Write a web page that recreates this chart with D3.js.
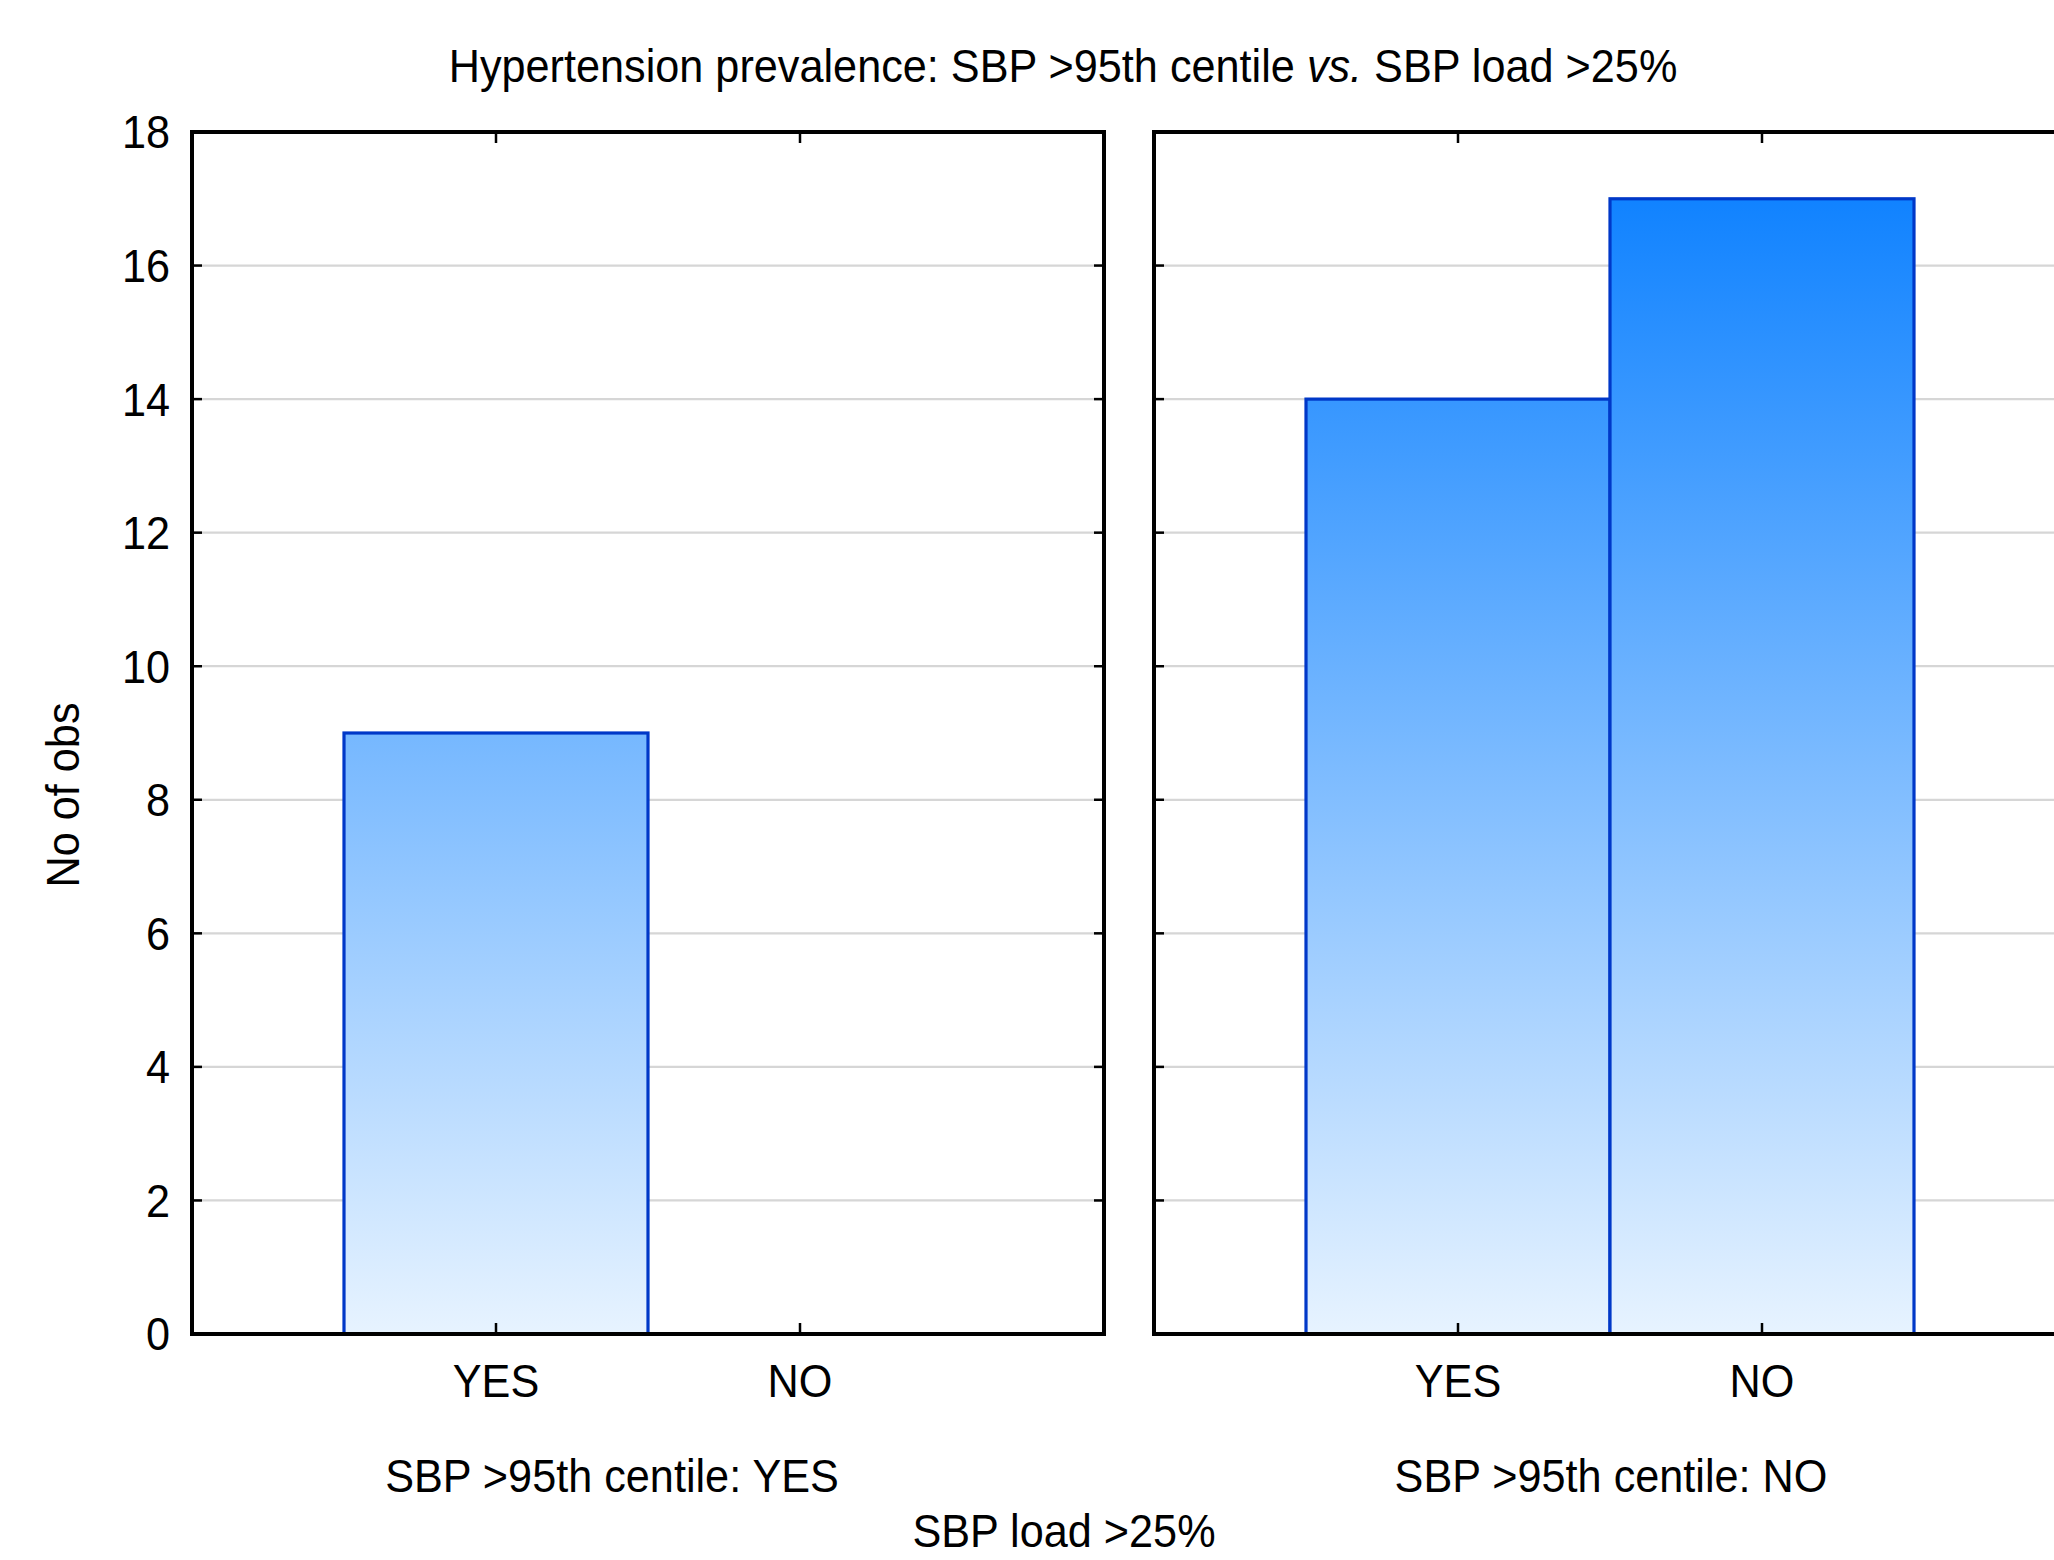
<!DOCTYPE html>
<html>
<head>
<meta charset="utf-8">
<script src="https://cdn.jsdelivr.net/npm/d3@7"></script>
<style>
  html, body { margin: 0; padding: 0; background: #fff; }
  svg { display: block; }
  text { font-family: "Liberation Sans", Arial, sans-serif; fill: #000; }
</style>
</head>
<body>
<svg id="chart" width="2054" height="1560"></svg>
<script>
// ---- data ----
const categories = ["YES", "NO"];
const panelLabels = ["SBP >95th centile: YES", "SBP >95th centile: NO"];
const valuesPanelYes = [9, 0];
const valuesPanelNo = [14, 17];
const yTicks = [0, 2, 4, 6, 8, 10, 12, 14, 16, 18];
const titleMain = "Hypertension prevalence: SBP >95th centile ";
const titleItalic = "vs.";
const titleEnd = " SBP load >25%";
const yLabel = "No of obs";
const xLabel = "SBP load >25%";

const panelValues = [valuesPanelYes, valuesPanelNo];

// ---- layout ----
const plotTop = 132, plotBottom = 1334;
const panelW = 912;
const panelX = [192, 1154];
const FS = 47, SX = 0.92;

const svg = d3.select("#chart");

const y = d3.scaleLinear().domain([0, 18]).range([plotBottom, plotTop]);

// gradient (absolute, across plot height)
const defs = svg.append("defs");
const grad = defs.append("linearGradient")
  .attr("id", "barGrad")
  .attr("gradientUnits", "userSpaceOnUse")
  .attr("x1", 0).attr("x2", 0)
  .attr("y1", y(18)).attr("y2", y(0));
grad.append("stop").attr("offset", "0%").attr("stop-color", "rgb(4,124,255)");
grad.append("stop").attr("offset", "100%").attr("stop-color", "rgb(231,243,255)");

function addText(g, str, x, yy, anchor, opts = {}) {
  const t = g.append("text")
    .attr("transform", `translate(${x},${yy}) scale(${SX},1)`)
    .attr("text-anchor", anchor)
    .attr("font-size", FS);
  if (opts.dy) t.attr("dy", opts.dy);
  t.text(str);
  return t;
}

panelValues.forEach((vals, pi) => {
  const x0 = panelX[pi], x1 = x0 + panelW;
  const g = svg.append("g");
  const x = d3.scalePoint().domain(categories).range([x0, x1]).padding(1);
  const bw = x.step();

  // gridlines
  g.selectAll("line.grid").data(yTicks.filter(d => d > 0 && d < 18)).enter()
    .append("line")
    .attr("x1", x0).attr("x2", x1)
    .attr("y1", d => y(d)).attr("y2", d => y(d))
    .attr("stroke", "#d6d6d6").attr("stroke-width", 2.2);

  // bars
  const data = categories.map((c, i) => ({ c, v: vals[i] })).filter(d => d.v > 0);
  g.selectAll("rect.bar").data(data).enter()
    .append("rect")
    .attr("x", d => x(d.c) - bw / 2)
    .attr("y", d => y(d.v))
    .attr("width", bw)
    .attr("height", d => y(0) - y(d.v))
    .attr("fill", "url(#barGrad)")
    .attr("stroke", "#0038c8")
    .attr("stroke-width", 3.2);

  // y ticks (inner) on left and right edges
  const yt = yTicks.filter(d => d > 0 && d < 18);
  g.selectAll("line.ytl").data(yt).enter().append("line")
    .attr("x1", x0).attr("x2", x0 + 10)
    .attr("y1", d => y(d)).attr("y2", d => y(d))
    .attr("stroke", "#000").attr("stroke-width", 2.5);
  g.selectAll("line.ytr").data(yt).enter().append("line")
    .attr("x1", x1 - 10).attr("x2", x1)
    .attr("y1", d => y(d)).attr("y2", d => y(d))
    .attr("stroke", "#000").attr("stroke-width", 2.5);

  // x ticks top & bottom (inner)
  g.selectAll("line.xtb").data(categories).enter().append("line")
    .attr("x1", d => x(d)).attr("x2", d => x(d))
    .attr("y1", plotBottom).attr("y2", plotBottom - 11)
    .attr("stroke", "#000").attr("stroke-width", 2.5);
  g.selectAll("line.xtt").data(categories).enter().append("line")
    .attr("x1", d => x(d)).attr("x2", d => x(d))
    .attr("y1", plotTop).attr("y2", plotTop + 11)
    .attr("stroke", "#000").attr("stroke-width", 2.5);

  // frame
  g.append("rect")
    .attr("x", x0).attr("y", plotTop)
    .attr("width", panelW).attr("height", plotBottom - plotTop)
    .attr("fill", "none").attr("stroke", "#000").attr("stroke-width", 4);

  // x tick labels
  categories.forEach(c => addText(g, c, x(c), 1397, "middle"));

  // panel label
  const lblX = pi === 0 ? 612 : 1611;
  addText(g, panelLabels[pi], lblX, 1492, "middle");
});

// y tick labels
yTicks.forEach(v => addText(svg, String(v), 170, y(v), "end", { dy: "0.35em" }));

// y axis label
svg.append("text")
  .attr("transform", `translate(79,795) rotate(-90) scale(${SX},1)`)
  .attr("text-anchor", "middle")
  .attr("font-size", FS)
  .text(yLabel);

// title
const tt = svg.append("text")
  .attr("transform", `translate(1063,82) scale(${SX},1)`)
  .attr("text-anchor", "middle")
  .attr("font-size", FS);
tt.append("tspan").text(titleMain);
tt.append("tspan").attr("font-style", "italic").text(titleItalic);
tt.append("tspan").text(titleEnd);

// bottom x label
addText(svg, xLabel, 1064, 1547, "middle");
</script>
</body>
</html>
